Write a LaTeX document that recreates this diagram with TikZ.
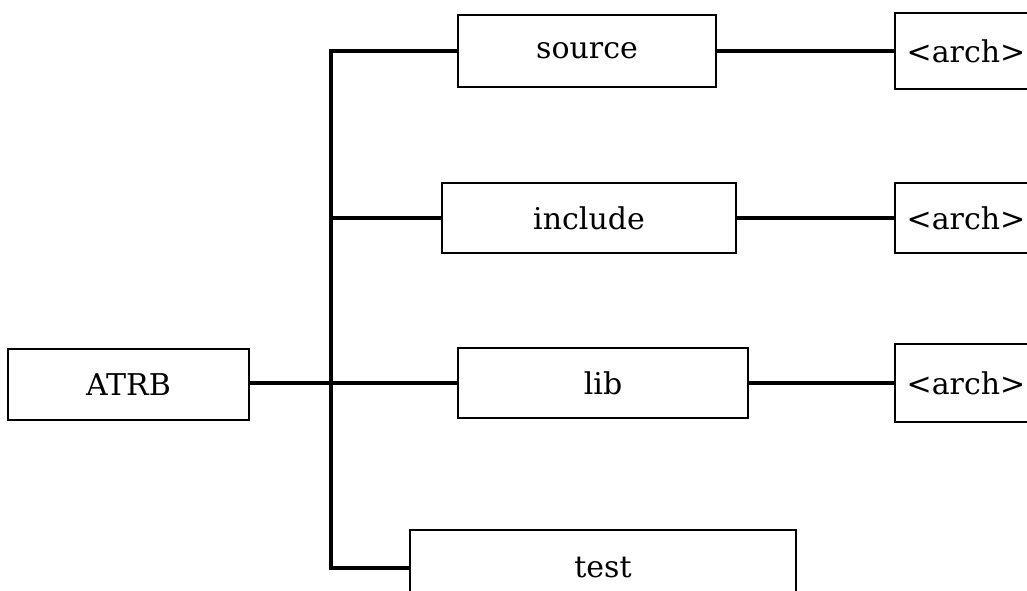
\documentclass[tikz,border=0pt]{standalone}
\usepackage{fontspec}
\setmainfont{DejaVu Serif}
\begin{document}
\begin{tikzpicture}[x=0.75pt,y=-0.75pt,
  box/.style={draw, line width=1.3pt, inner sep=0pt, font=\fontsize{22.5}{27}\selectfont},
  link/.style={line width=2.3pt}]
\useasboundingbox (0,0) rectangle (1027,591);
\clip (0,0) rectangle (1027,591);
% directory boxes
\node[box, minimum width=181pt, minimum height=53pt] (atrb) at (128.5,384.5) {ATRB};
\node[box, minimum width=193pt, minimum height=54pt] (source) at (587,51) {source};
\node[box, minimum width=220pt, minimum height=53pt] (include) at (589,218) {include};
\node[box, minimum width=217pt, minimum height=52pt] (lib) at (603,383) {lib};
\node[box, minimum width=289pt, minimum height=57pt] (test) at (603,568) {test};
\node[box, minimum width=106pt, minimum height=57pt] (arch1) at (966,51) {<arch>};
\node[box, minimum width=106pt, minimum height=53pt] (arch2) at (966,218) {<arch>};
\node[box, minimum width=106pt, minimum height=58pt] (arch3) at (966,383) {<arch>};
% tree connectors
\coordinate (j) at (331,383);
\draw[link] (atrb.east |- j) -- (j);
\draw[link] (source.west) -| (j) |- (test.west);
\draw[link] (j |- include.west) -- (include.west);
\draw[link] (j) -- (lib.west);
\draw[link] (source.east) -- (arch1.west);
\draw[link] (include.east) -- (arch2.west);
\draw[link] (lib.east) -- (arch3.west);
\end{tikzpicture}
\end{document}
